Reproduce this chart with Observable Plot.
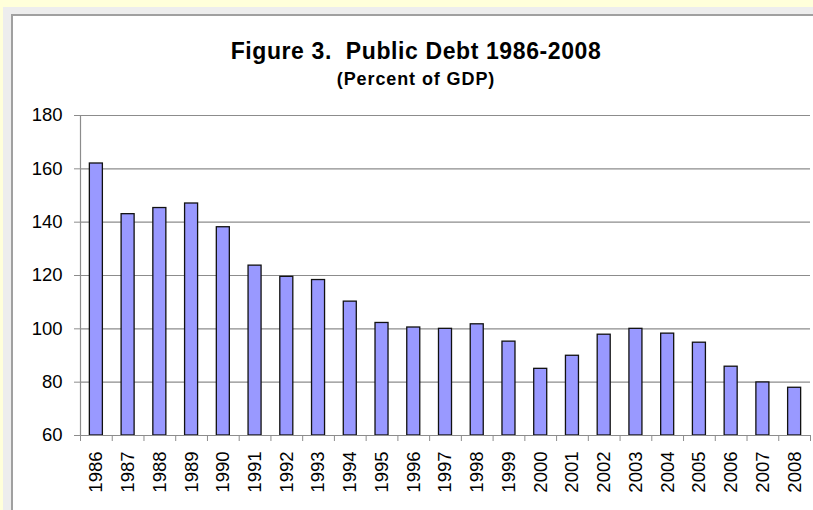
<!DOCTYPE html>
<html>
<head>
<meta charset="utf-8">
<script src="https://cdn.jsdelivr.net/npm/d3@7"></script>
<script src="https://cdn.jsdelivr.net/npm/@observablehq/plot@0.6"></script>
<style>
  html, body { margin: 0; padding: 0; }
  body { width: 813px; height: 510px; overflow: hidden; background: #FFFFDA; position: relative;
         font-family: "Liberation Sans", Arial, sans-serif; }
  #frame { position: absolute; left: 3px; top: 7px; right: 0; bottom: 0; background: #EDEDED; }
  #panel { position: absolute; left: 11px; top: 14px; right: 0; bottom: 0; background: #fff;
           border-left: 2px solid #A0A0A0; border-top: 2px solid #A0A0A0; }
  .t { position: absolute; left: 416px; transform: translateX(-50%); white-space: nowrap; font-weight: bold;
       color: #000; line-height: 1; }
  #title { top: 40px; font-size: 23px; letter-spacing: 0.6px; }
  #subtitle { top: 70px; font-size: 18px; letter-spacing: 0.9px; }
  #chart { position: absolute; left: 14px; top: 100px; }
</style>
</head>
<body>
<div id="frame"></div>
<div id="panel"></div>
<div class="t" id="title">Figure 3.&nbsp; Public Debt 1986-2008</div>
<div class="t" id="subtitle">(Percent of GDP)</div>
<div id="chart"></div>
<script>
const years = [1986, 1987, 1988, 1989, 1990, 1991, 1992, 1993, 1994, 1995, 1996, 1997,
               1998, 1999, 2000, 2001, 2002, 2003, 2004, 2005, 2006, 2007, 2008];
const debt  = [162, 143, 145.3, 147, 138.1, 123.7, 119.5, 118.3, 110.2, 102.2, 100.5, 100,
               101.7, 95.2, 85, 89.9, 97.8, 100, 98.2, 94.8, 85.8, 79.9, 77.9];
const yTicks = [60, 80, 100, 120, 140, 160, 180];
const yBase = 60;
const barHalf = 0.205;

const data = years.map((year, i) => ({year, debt: debt[i]}));
const boundaries = years.map(y => y - 0.5).concat([years[years.length - 1] + 0.5]);
const gray = "#8c8c8c";

const chart = Plot.plot({
  width: 799,
  height: 410,
  marginLeft: 66,
  marginRight: 3,
  marginTop: 15,
  marginBottom: 75,
  style: {background: "white", fontFamily: "'Liberation Sans', Arial, sans-serif", fontSize: "18.5px", color: "#000", overflow: "visible"},
  x: {type: "linear", domain: [boundaries[0], boundaries[boundaries.length - 1]]},
  y: {domain: [yTicks[0], yTicks[yTicks.length - 1]]},
  marks: [
    Plot.gridY(yTicks, {stroke: gray, strokeOpacity: 1, strokeWidth: 1.2}),
    Plot.rectY(data, {x1: d => d.year - barHalf, x2: d => d.year + barHalf, y1: d => yBase, y2: "debt",
                      fill: "#9999FF", stroke: "#111", strokeWidth: 1.3}),
    Plot.ruleY([yBase], {stroke: gray, strokeWidth: 1.2}),
    Plot.ruleX([boundaries[0]], {stroke: gray, strokeWidth: 1.2}),
    Plot.axisY({ticks: yTicks, tickSize: 6, tickPadding: 12, stroke: gray, fill: "#000", label: null}),
    Plot.axisX({ticks: boundaries, tickSize: 6, tickFormat: () => "", stroke: gray, label: null}),
    Plot.axisX({ticks: years, tickSize: 0, tickPadding: 16, tickRotate: -90, tickFormat: d => String(d), fill: "#000", label: null})
  ]
});
document.getElementById("chart").appendChild(chart);
</script>
</body>
</html>
